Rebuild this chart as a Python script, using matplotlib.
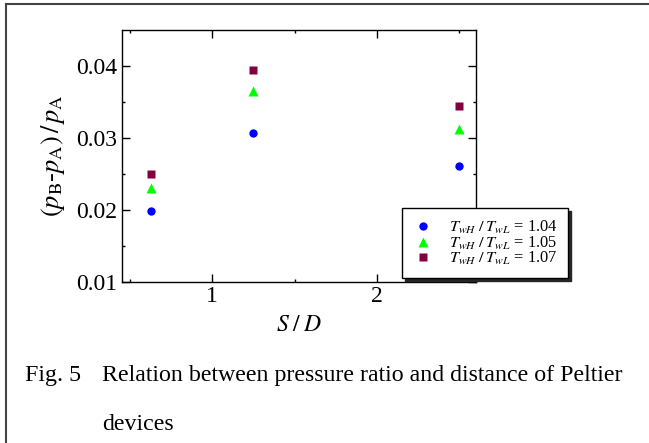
import matplotlib
matplotlib.use('Agg')
import matplotlib.pyplot as plt
from matplotlib.lines import Line2D

# data
s_d = [0.625, 1.25, 2.5]
ratio_104 = [0.0198, 0.0306, 0.0261]
ratio_105 = [0.0230, 0.0364, 0.0312]
ratio_107 = [0.0249, 0.0394, 0.0344]
legend_labels = ['1.04', '1.05', '1.07']

plt.rcParams['font.family'] = ['Liberation Serif', 'DejaVu Serif']
plt.rcParams['mathtext.fontset'] = 'stix'

fig = plt.figure(figsize=(6.49, 4.43), dpi=100)
ax = fig.add_axes([121.7/649, 1-281.7/443, 354/649, 252.2/443])

ax.plot(s_d, ratio_104, 'o', color='#0000ff', ms=6, mec='none')
ax.plot(s_d, ratio_105, '^', color='#00ff00', ms=7, mec='none')
ax.plot(s_d, ratio_107, 's', color='#800040', ms=6, mec='none')

ax.set_xlim(0.45, 2.6)
ax.set_ylim(0.01, 0.045)
ax.set_xticks([1, 2])
ax.set_xticks([0.5, 1.5, 2.5], minor=True)
ax.set_yticks([0.01, 0.02, 0.03, 0.04])
ax.set_yticks([0.015, 0.025, 0.035], minor=True)
ax.set_yticklabels(['0.01', '0.02', '0.03', '0.04'])
ax.tick_params(which='both', direction='in', top=True, right=True, labelsize=17, width=1)
ax.tick_params(which='major', length=5.5, pad=3)
ax.tick_params(which='minor', length=2.5)
for sp in ax.spines.values():
    sp.set_linewidth(1)

ax.set_xlabel(r'$S\;/\;D$', fontsize=17, labelpad=6)
ax.set_ylabel(r'$(p_{\mathrm{B}}$-$p_{\mathrm{A}})\,/\,p_{\mathrm{A}}$', fontsize=19, labelpad=7)

# legend sits partly outside the axes
handles = [Line2D([], [], ls='none', marker='o', color='#0000ff', ms=6, mec='none'),
           Line2D([], [], ls='none', marker='^', color='#00ff00', ms=7, mec='none'),
           Line2D([], [], ls='none', marker='s', color='#800040', ms=6, mec='none')]
labels = [r'$T_{wH}\;/\;T_{wL}$ = ' + v for v in legend_labels]
leg = fig.legend(handles, labels, loc='upper left', bbox_to_anchor=(402/649, 1-208/443),
                 borderaxespad=0, fontsize=11.8, fancybox=False, edgecolor='black',
                 shadow={'color': '0.15', 'alpha': 1}, framealpha=1, handlelength=1.3,
                 handletextpad=0.9, labelspacing=-0.08, borderpad=0.65)
leg.get_frame().set_linewidth(1)

# caption
fig.text(25/649, 1-376/443, 'Fig. 5', fontsize=17.2, va='center', ha='left')
fig.text(102/649, 1-376/443, 'Relation between pressure ratio and distance of Peltier',
         fontsize=17.2, va='center', ha='left')
fig.text(102/649, 1-424/443, 'devices', fontsize=17.2, va='center', ha='left')

# page border
fig.add_artist(Line2D([5.7/649, 5.7/649], [0, 1-4/443], transform=fig.transFigure, color='#444444', lw=1.5))
fig.add_artist(Line2D([5.7/649, 1], [1-4/443, 1-4/443], transform=fig.transFigure, color='#444444', lw=1.5))

plt.savefig('out.png', dpi=100)
